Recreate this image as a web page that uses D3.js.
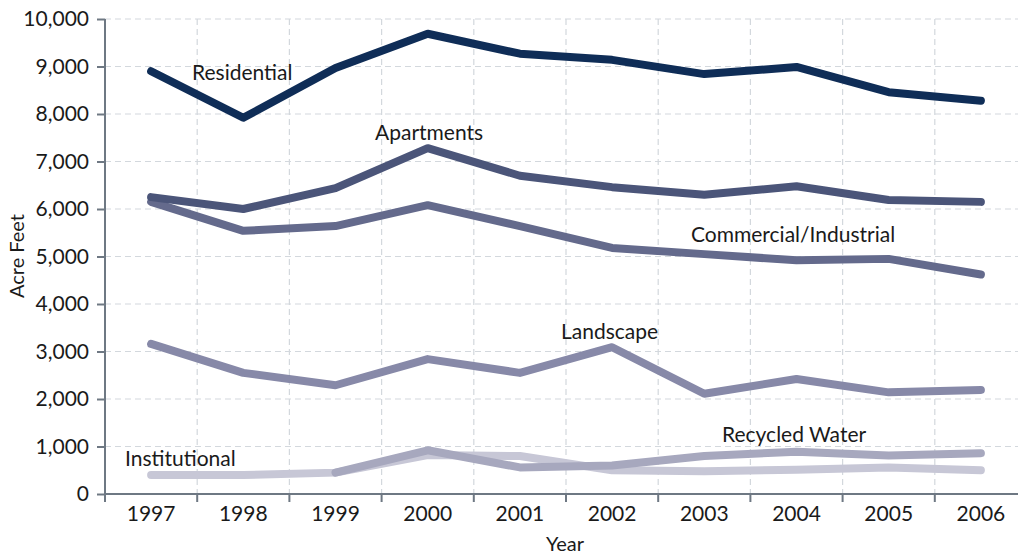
<!DOCTYPE html>
<html><head><meta charset="utf-8">
<script src="https://cdn.jsdelivr.net/npm/d3@7"></script>
<style>body{margin:0;background:#fff}svg{display:block}text{font-family:Lato,"Open Sans",sans-serif;fill:#1a1a1a}</style>
</head><body><svg id="c" width="1018" height="554"></svg>
<script>
const years = [1997,1998,1999,2000,2001,2002,2003,2004,2005,2006];
const yTicks = [0,1000,2000,3000,4000,5000,6000,7000,8000,9000,10000];
const residential = [8900,7920,8970,9690,9270,9140,8840,8990,8460,8280];
const apartments = [6250,6000,6440,7280,6700,6460,6300,6480,6190,6150];
const commercial = [6150,5540,5640,6080,5640,5180,5050,4920,4950,4620];
const landscape = [3160,2550,2290,2840,2550,3090,2110,2420,2140,2190];
const recycled = [null,null,450,920,560,600,800,890,810,860];
const institutional = [400,400,450,820,800,500,480,510,560,500];
const seriesNames = ["Institutional","Recycled Water","Landscape","Commercial/Industrial","Apartments","Residential"];
const seriesValues = [institutional,recycled,landscape,commercial,apartments,residential];
const colors = ["#c7c7d6","#a7a8be","#8789a8","#646a8c","#4b5579","#0f2d57"];
const labelPos = [[125,466],[722,442],[561,339],[691,242],[375,140],[192,80]];

(function(){
const svg = d3.select("#c");
const pl = 105, pr = 1027, pt = 19, pb = 494;
const x = d3.scaleBand().domain(years).range([pl,pr]);
const y = d3.scaleLinear().domain([0,10000]).range([pb,pt]);
const grid = "#d3d8dd", axisC = "#6e7883";

svg.append("g").selectAll("line").data(yTicks.filter(d=>d>0)).join("line")
  .attr("x1",pl).attr("x2",1018).attr("y1",d=>y(d)).attr("y2",d=>y(d))
  .attr("stroke",grid).attr("stroke-width",1.2).attr("stroke-dasharray","6,4");
svg.append("g").selectAll("line").data(years.slice(1)).join("line")
  .attr("x1",d=>x(d)).attr("x2",d=>x(d)).attr("y1",pt).attr("y2",pb)
  .attr("stroke",grid).attr("stroke-width",1.2).attr("stroke-dasharray","6,4");

const ya = svg.append("g").attr("transform",`translate(${pl},0)`)
  .call(d3.axisLeft(y).tickValues(yTicks).tickFormat(d3.format(",")).tickSize(8).tickPadding(8));
const xa = svg.append("g").attr("transform",`translate(0,${pb})`)
  .call(d3.axisBottom(x).tickSize(0).tickPadding(12));
svg.append("g").selectAll("line").data(years.slice(1)).join("line")
  .attr("x1",d=>x(d)).attr("x2",d=>x(d)).attr("y1",pb).attr("y2",pb+8)
  .attr("stroke",axisC).attr("stroke-width",2);
svg.append("line").attr("x1",pl).attr("x2",pl).attr("y1",pb).attr("y2",pb+8).attr("stroke",axisC).attr("stroke-width",2);
[ya,xa].forEach(a=>{
  a.selectAll(".domain").attr("stroke",axisC).attr("stroke-width",2);
  a.selectAll(".tick line").attr("stroke",axisC).attr("stroke-width",2);
  a.selectAll("text").style("font-family","Lato,sans-serif").attr("font-size",21).attr("fill","#1a1a1a");
});
ya.select(".domain").attr("d",`M0,${pt}V${pb}`);
xa.select(".domain").attr("d",`M${pl},0H1018`);

const line = d3.line().defined(d=>d[1]!=null).x(d=>x(d[0])+x.bandwidth()/2).y(d=>y(d[1]));
seriesValues.forEach((vals,i)=>{
  svg.append("path").datum(years.map((yr,j)=>[yr,vals[j]]))
    .attr("d",line).attr("fill","none").attr("stroke",colors[i])
    .attr("stroke-width",8).attr("stroke-linecap","round").attr("stroke-linejoin","round");
});
seriesNames.forEach((n,i)=>{
  svg.append("text").attr("x",labelPos[i][0]).attr("y",labelPos[i][1]).attr("font-size",21).text(n);
});

svg.append("text").attr("transform","translate(24,256) rotate(-90)").attr("text-anchor","middle").attr("font-size",20).text("Acre Feet");
svg.append("text").attr("x",565).attr("y",551).attr("text-anchor","middle").attr("font-size",20).text("Year");
})();
</script></body></html>
